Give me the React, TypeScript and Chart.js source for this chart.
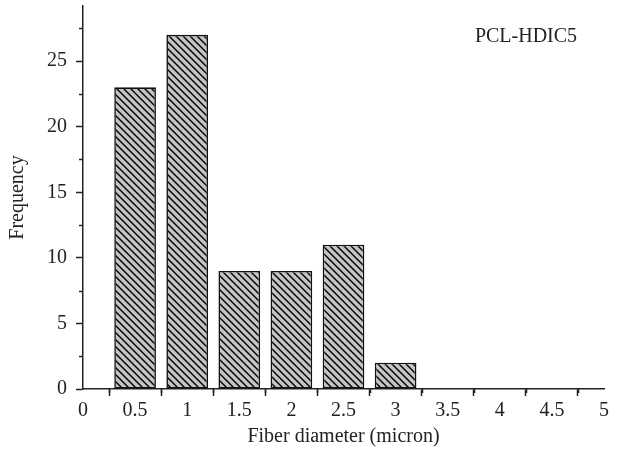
import React, { useEffect, useRef } from "react";
import { Chart, registerables } from "chart.js";

Chart.register(...registerables);

const binCenters = [0.5, 1, 1.5, 2, 2.5, 3];
const frequencies = [23, 27, 9, 9, 11, 2];
const xTickValues = [0, 0.5, 1, 1.5, 2, 2.5, 3, 3.5, 4, 4.5, 5];
const yTickValues = [0, 5, 10, 15, 20, 25];
const sampleLabel = "PCL-HDIC5";
const xTitle = "Fiber diameter (micron)";
const yTitle = "Frequency";

const FONT = "'Liberation Serif', 'DejaVu Serif', serif";
const FS = 20;

function makePattern(): CanvasPattern | string {
  const p = 7;
  const c = document.createElement("canvas");
  c.width = p;
  c.height = p;
  const ctx = c.getContext("2d");
  if (!ctx) return "#c0c0c0";
  ctx.fillStyle = "#c4c4c4";
  ctx.fillRect(0, 0, p, p);
  ctx.strokeStyle = "#000";
  ctx.lineWidth = 1.4;
  for (let k = -1; k <= 1; k++) {
    ctx.beginPath();
    ctx.moveTo(k * p - 1, -1);
    ctx.lineTo(k * p + p + 1, p + 1);
    ctx.stroke();
  }
  const pat = ctx.createPattern(c, "repeat");
  return pat || "#c0c0c0";
}

const extrasPlugin = {
  id: "extras",
  afterDraw(chart: any) {
    const { ctx, scales, chartArea } = chart;
    const xs = scales.x;
    const ys = scales.y;
    ctx.save();
    ctx.strokeStyle = "#222";
    ctx.lineWidth = 1.5;
    for (let i = 0; i < xTickValues.length - 1; i++) {
      const v = (xTickValues[i] + xTickValues[i + 1]) / 2;
      const px = Math.round(xs.getPixelForValue(v)) + 0.5;
      ctx.beginPath();
      ctx.moveTo(px, chartArea.bottom);
      ctx.lineTo(px, chartArea.bottom + 4);
      ctx.stroke();
    }
    for (let i = 0; i < yTickValues.length; i++) {
      const v = yTickValues[i] + 2.5;
      const py = Math.round(ys.getPixelForValue(v)) + 0.5;
      ctx.beginPath();
      ctx.moveTo(chartArea.left - 4, py);
      ctx.lineTo(chartArea.left, py);
      ctx.stroke();
    }
    ctx.fillStyle = "#222";
    ctx.font = `${FS}px ${FONT}`;
    ctx.textAlign = "center";
    ctx.textBaseline = "middle";
    ctx.fillText(sampleLabel, 526, 37);
    ctx.restore();
  },
};

export default function App() {
  const ref = useRef<HTMLCanvasElement | null>(null);
  useEffect(() => {
    if (!ref.current) return;
    const pattern = makePattern();
    const chart = new Chart(ref.current, {
      type: "bar",
      data: {
        datasets: [
          {
            data: binCenters.map((x, i) => ({ x, y: frequencies[i] })),
            backgroundColor: pattern as any,
            borderColor: "#111",
            borderWidth: 1.6,
            borderSkipped: false,
            barPercentage: 0.8,
            categoryPercentage: 1,
          },
        ],
      },
      options: {
        animation: false,
        responsive: false,
        maintainAspectRatio: false,
        layout: { padding: { left: 0, top: 6, right: 13, bottom: 0 } },
        plugins: { legend: { display: false }, tooltip: { enabled: false } },
        scales: {
          x: {
            type: "linear",
            min: 0,
            max: 5,
            offset: false,
            afterFit(scale: any) {
              scale.height = 73;
              scale.paddingLeft = 0;
              scale.paddingRight = 0;
            },
            afterBuildTicks(scale: any) {
              scale.ticks = xTickValues.map((v) => ({ value: v }));
            },
            ticks: {
              color: "#222",
              font: { family: FONT, size: FS },
              padding: 3,
              maxRotation: 0,
              autoSkip: false,
              callback: (v: any) => String(v),
            },
            grid: {
              drawOnChartArea: false,
              drawTicks: true,
              tickLength: 7,
              tickWidth: 1.5,
              tickColor: "#222",
            },
            border: { display: true, color: "#222", width: 1.5 },
            title: {
              display: true,
              text: xTitle,
              color: "#222",
              font: { family: FONT, size: FS },
              padding: { top: 0, bottom: 13 },
            },
          },
          y: {
            type: "linear",
            min: 0,
            max: 29.2,
            afterFit(scale: any) {
              scale.width = 83;
              scale.paddingTop = 0;
              scale.paddingBottom = 0;
            },
            afterBuildTicks(scale: any) {
              scale.ticks = yTickValues.map((v) => ({ value: v }));
            },
            ticks: {
              color: "#222",
              font: { family: FONT, size: FS },
              padding: 9,
              autoSkip: false,
              callback: (v: any) => String(v),
            },
            grid: {
              drawOnChartArea: false,
              drawTicks: true,
              tickLength: 7,
              tickWidth: 1.5,
              tickColor: "#222",
            },
            border: { display: true, color: "#222", width: 1.5 },
            title: {
              display: true,
              text: yTitle,
              color: "#222",
              font: { family: FONT, size: FS },
              padding: { top: 6, bottom: 0 },
            },
          },
        },
      },
      plugins: [extrasPlugin],
    });
    return () => chart.destroy();
  }, []);
  return (
    <div style={{ position: "fixed", left: 0, top: 0, width: 617, height: 462, background: "#fff" }}>
      <canvas ref={ref} width={617} height={462} style={{ display: "block", width: 617, height: 462 }} />
    </div>
  );
}
